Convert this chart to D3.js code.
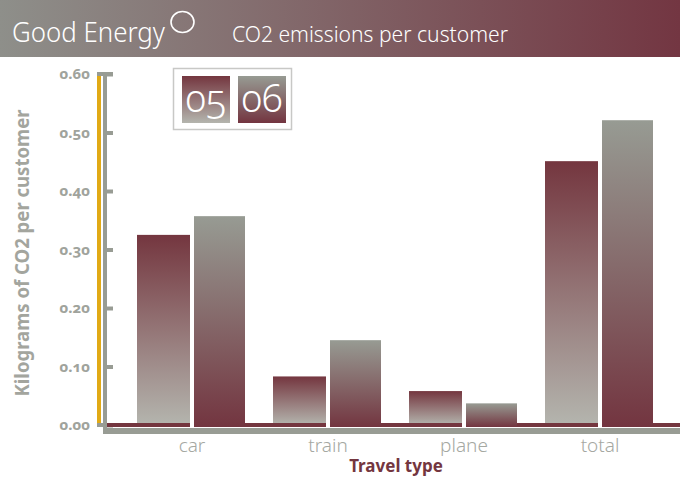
<!DOCTYPE html>
<html>
<head>
<meta charset="utf-8">
<script src="https://cdn.jsdelivr.net/npm/d3@7/dist/d3.min.js"></script>
<style>
  html, body { margin: 0; padding: 0; background: #fff; }
  svg { display: block; font-family: "Noto Sans", "Open Sans", sans-serif; }
  .onum { font-variant-numeric: oldstyle-nums; font-feature-settings: "onum" 1; }
</style>
</head>
<body>
<svg id="chart" width="680" height="478"></svg>
<script>
// Travel CO2 per customer, two years side by side
const categories = ["car", "train", "plane", "total"];
const seriesKeys = ["05", "06"];
const values05 = [0.325, 0.083, 0.058, 0.451];
const values06 = [0.357, 0.145, 0.037, 0.521];
const yTicks = [0, 0.1, 0.2, 0.3, 0.4, 0.5, 0.6];

const maroon = "#74363f";
const axisGray = "#989c94";
const gold = "#e1aa15";

const svg = d3.select("#chart");
const defs = svg.append("defs");

function vGradient(id, top, bottom) {
  const g = defs.append("linearGradient").attr("id", id)
    .attr("x1", 0).attr("y1", 0).attr("x2", 0).attr("y2", 1);
  g.append("stop").attr("offset", "0%").attr("stop-color", top);
  g.append("stop").attr("offset", "100%").attr("stop-color", bottom);
}
vGradient("g05", "#74363f", "#b4b5ae");
vGradient("g06", "#979b93", "#733540");
const hg = defs.append("linearGradient").attr("id", "gHead")
  .attr("x1", 0).attr("y1", 0).attr("x2", 1).attr("y2", 0);
hg.append("stop").attr("offset", "0%").attr("stop-color", "#8e8f8a");
hg.append("stop").attr("offset", "100%").attr("stop-color", "#733642");

// Header band
svg.append("rect").attr("x", 0).attr("y", 0).attr("width", 680).attr("height", 57)
  .attr("fill", "url(#gHead)");
svg.append("text").attr("x", 12).attr("y", 42)
  .attr("fill", "#fff").attr("font-size", 28).attr("font-weight", 300)
  .attr("textLength", 153).attr("lengthAdjust", "spacingAndGlyphs")
  .text("Good Energy");
svg.append("ellipse").attr("cx", 182.5).attr("cy", 22).attr("rx", 11.5).attr("ry", 10.5)
  .attr("fill", "none").attr("stroke", "#fff").attr("stroke-width", 1.6);
svg.append("text").attr("x", 232).attr("y", 42)
  .attr("fill", "#fff").attr("font-size", 21).attr("font-weight", 300)
  .attr("textLength", 276).attr("lengthAdjust", "spacingAndGlyphs")
  .text("CO2 emissions per customer");

// Scales
const y = d3.scaleLinear().domain([0, 0.6]).range([425, 74]);
const x0 = d3.scaleBand().domain(categories).range([123, 667])
  .paddingInner(28 / 136).paddingOuter(14 / 136);
const x1 = d3.scaleBand().domain(seriesKeys).range([0, x0.bandwidth()]);

// Y axis: gold rule, gray spine, ticks and labels
svg.append("rect").attr("x", 97).attr("y", 76).attr("width", 4).attr("height", y(0) + 1 - 76)
  .attr("fill", gold);
svg.append("rect").attr("x", 103).attr("y", 72).attr("width", 4).attr("height", 356)
  .attr("fill", axisGray);
svg.append("rect").attr("x", 97).attr("y", 72).attr("width", 16).attr("height", 4)
  .attr("fill", axisGray);
svg.append("rect").attr("x", 97).attr("y", 423).attr("width", 10).attr("height", 4)
  .attr("fill", axisGray);

const yAxis = d3.axisLeft(y).tickValues(yTicks).tickFormat(d3.format(".2f"))
  .tickSizeInner(10).tickSizeOuter(0).tickPadding(13);
const yg = svg.append("g").attr("transform", "translate(113,0)").call(yAxis);
yg.select(".domain").remove();
yg.selectAll(".tick line").attr("stroke", axisGray).attr("stroke-width", 4);
yg.selectAll(".tick text")
  .attr("class", "onum")
  .attr("fill", "#a0a39c").attr("font-size", 15).attr("font-weight", 700)
  .attr("font-family", "'Noto Sans', sans-serif");

svg.append("text")
  .attr("transform", "translate(29,253) rotate(-90)")
  .attr("text-anchor", "middle")
  .attr("fill", "#a3a59e").attr("font-size", 19).attr("font-weight", 700)
  .attr("textLength", 287).attr("lengthAdjust", "spacingAndGlyphs")
  .text("Kilograms of CO2 per customer");

// X axis rule
svg.append("rect").attr("x", 103).attr("y", 428).attr("width", 577).attr("height", 6)
  .attr("fill", axisGray);

// 05 bars (sit on the maroon baseline)
svg.append("g").selectAll("rect").data(categories).join("rect")
  .attr("x", (d) => x0(d) + x1("05"))
  .attr("y", (d, i) => y(values05[i]))
  .attr("width", x1.bandwidth() - 1)
  .attr("height", (d, i) => y(0) - y(values05[i]))
  .attr("fill", "url(#g05)");

// Maroon baseline
svg.append("rect").attr("x", 107).attr("y", 423).attr("width", 573).attr("height", 4)
  .attr("fill", maroon);

// White gap to the left of each 06 bar, cutting the baseline
svg.append("g").selectAll("rect").data(categories).join("rect")
  .attr("x", (d) => x0(d) + x1("06") - 1)
  .attr("y", 423).attr("width", 4).attr("height", 4)
  .attr("fill", "#fff");

// 06 bars (run through the baseline)
svg.append("g").selectAll("rect").data(categories).join("rect")
  .attr("x", (d) => x0(d) + x1("06") + 3)
  .attr("y", (d, i) => y(values06[i]))
  .attr("width", x1.bandwidth() - 3)
  .attr("height", (d, i) => y(0) + 2 - y(values06[i]))
  .attr("fill", "url(#g06)");

// Category labels
svg.append("g").selectAll("text").data(categories).join("text")
  .attr("x", (d) => x0(d) + x0.bandwidth() / 2 + 1)
  .attr("y", 452)
  .attr("text-anchor", "middle")
  .attr("fill", "#a5a8a2").attr("font-size", 19).attr("font-weight", 300)
  .text((d) => d);

svg.append("text").attr("x", 396).attr("y", 472)
  .attr("text-anchor", "middle")
  .attr("fill", maroon).attr("font-size", 17).attr("font-weight", 700)
  .text("Travel type");

// Legend
svg.append("rect").attr("x", 173.5).attr("y", 68.5).attr("width", 118).attr("height", 61)
  .attr("fill", "#fff").attr("stroke", "#c8c8c6").attr("stroke-width", 1.5);
const legendX = [182, 238];
const legend = svg.append("g").selectAll("g").data(seriesKeys).join("g")
  .attr("transform", (d, i) => `translate(${legendX[i]},76)`);
legend.append("rect").attr("width", 48).attr("height", 47)
  .attr("fill", (d) => `url(#g${d})`);
legend.append("text").attr("class", "onum")
  .attr("x", 24).attr("y", 36)
  .attr("text-anchor", "middle")
  .attr("fill", "#fff").attr("font-size", 38).attr("font-weight", 300)
  .text((d) => d);
</script>
</body>
</html>
